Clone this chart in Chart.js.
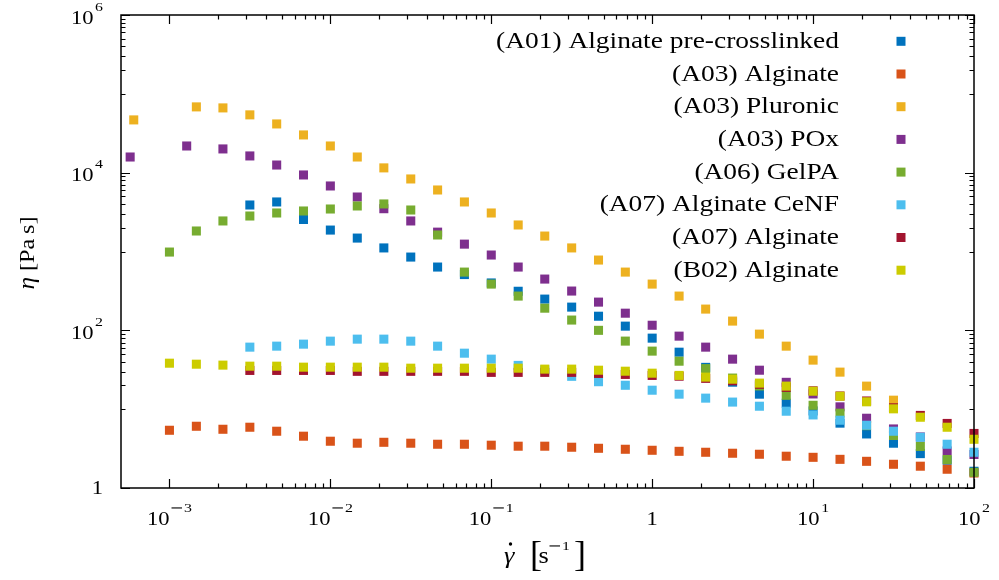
<!DOCTYPE html>
<html>
<head>
<meta charset="utf-8">
<script src="https://cdn.jsdelivr.net/npm/chart.js@4.4.1/dist/chart.umd.min.js"></script>
<style>
  html, body { margin: 0; padding: 0; background: #fff; }
  #wrap { width: 999px; height: 580px; }
</style>
</head>
<body>
<div id="wrap"><canvas id="chart" width="999" height="580"></canvas></div>
<script>
var shearRate = [0.001, 0.00147, 0.00215, 0.00316, 0.00464, 0.00681, 0.01, 0.0147, 0.0215, 0.0316,
  0.0464, 0.0681, 0.1, 0.147, 0.215, 0.316, 0.464, 0.681, 1, 1.47, 2.15, 3.16, 4.64, 6.81, 10,
  14.7, 21.5, 31.6, 46.4, 68.1, 100];

var seriesNames = ["(A01) Alginate pre-crosslinked", "(A03) Alginate", "(A03) Pluronic", "(A03) POx",
  "(A06) GelPA", "(A07) Alginate CeNF", "(A07) Alginate", "(B02) Alginate"];
var seriesColors = ["#0072bd", "#d95319", "#edb120", "#7e2f8e", "#77ac30", "#4dbeee", "#a2142f", "#cccc00"];

// viscosity (Pa s)
var xA01 = shearRate.slice(3);
var etaA01 = [3890, 4250, 2550, 1870, 1480, 1110, 850, 635, 510, 399, 313, 249, 197, 151, 113, 79.6,
  52.8, 33.9, 22.0, 15.5, 11.9, 9.5, 6.65, 4.85, 3.70, 2.73, 2.25, 1.63];
var xA03Alg = shearRate;
var etaA03Alg = [5.40, 6.07, 5.56, 5.90, 5.25, 4.54, 3.92, 3.70, 3.80, 3.70, 3.59, 3.59, 3.49, 3.39,
  3.39, 3.29, 3.19, 3.10, 3.01, 2.92, 2.84, 2.76, 2.68, 2.53, 2.45, 2.31, 2.18, 2.00, 1.89, 1.73, 1.55];
var xPluronic = [0.0006].concat(shearRate.slice(1, 28));
var etaPluronic = [46700, 68300, 66300, 54100, 41500, 30100, 21800, 15800, 11500, 8320, 6030, 4250,
  3080, 2170, 1570, 1110, 779, 548, 386, 272, 186, 131, 89.5, 63, 41.9, 29.5, 19.6, 13];
var xPOx = [0.00057, 0.00128].concat(shearRate.slice(2));
var etaPOx = [15800, 21800, 20000, 16300, 12500, 9350, 6780, 4910, 3490, 2440, 1760, 1240, 902, 635,
  447, 315, 228, 165, 116, 84.4, 61.2, 43.1, 31.2, 21.9, 15.6, 10.7, 7.67, 5.61, 4.44, 2.95, 2.66];
var xGelPA = shearRate;
var etaGelPA = [984, 1820, 2440, 2820, 3080, 3265, 3460, 3780, 4010, 3360, 1620, 548, 386, 272, 191,
  135, 100, 73, 54.5, 40.6, 32.7, 24.8, 19.7, 15.0, 11.2, 8.89, 6.18, 4.64, 3.37, 2.30, 1.58];
var xCeNF = shearRate.slice(3);
var etaCeNF = [61.2, 63, 66.8, 72.9, 77.3, 77.3, 72.9, 63, 51.3, 43.1, 35.9, 31.5, 26.1, 22.3, 20.1,
  17.4, 15.5, 13.8, 12.3, 10.9, 9.42, 8.45, 7.24, 6.25, 5.25, 4.40, 3.59, 2.84];
var xA07Alg = shearRate.slice(3);
var etaA07Alg = [31.0, 31.0, 31.0, 31.0, 30.2, 30.2, 30.2, 30.2, 30.2, 29.3, 29.3, 29.3, 29.3, 28.4,
  27.6, 26.8, 26.2, 24.6, 22.9, 20.7, 18.9, 17.1, 14.7, 12.7, 10.4, 8.33, 6.59, 4.92];
var xB02 = shearRate;
var etaB02 = [38.3, 37.2, 36.2, 35.1, 35.1, 34.1, 34.1, 34.1, 34.1, 33.1, 33.1, 33.1, 33.1, 33.1, 32.2,
  32.2, 31.2, 30.3, 28.6, 26.8, 25.5, 24.0, 21.4, 19.6, 16.9, 14.6, 12.4, 10.1, 7.9, 5.9, 4.15];

// axis ticks: [base, exponent]
var xTicks = [0.001, 0.01, 0.1, 1, 10, 100];
var xTickText = [["10", "-3"], ["10", "-2"], ["10", "-1"], ["1", ""], ["10", "1"], ["10", "2"]];
var yTicks = [1, 100, 10000, 1000000];
var yTickText = [["1", ""], ["10", "2"], ["10", "4"], ["10", "6"]];

var allX = [xA01, xA03Alg, xPluronic, xPOx, xGelPA, xCeNF, xA07Alg, xB02];
var allY = [etaA01, etaA03Alg, etaPluronic, etaPOx, etaGelPA, etaCeNF, etaA07Alg, etaB02];

function pts(xs, ys) {
  return ys.map(function (v, i) { return { x: xs[i], y: v }; });
}

var datasets = seriesNames.map(function (name, i) {
  return {
    label: name,
    data: pts(allX[i], allY[i]),
    backgroundColor: seriesColors[i],
    borderWidth: 0,
    pointStyle: "rect",
    pointRadius: 6.4,
    pointHoverRadius: 6.4,
    clip: false,
    order: seriesNames.length - i   // later series drawn on top
  };
});

var SERIF = '"Liberation Serif", "DejaVu Serif", serif';
var SX = 1.22;
var TICK_PX = 18.5;
var SUP_PX = 13;

function textW(ctx, s, size, sx, style) {
  ctx.font = (style || "") + " " + size + "px " + SERIF;
  return ctx.measureText(s).width * sx;
}

function drawText(ctx, s, x, y, size, sx, style) {
  ctx.save();
  ctx.font = (style || "") + " " + size + "px " + SERIF;
  ctx.translate(x, y);
  ctx.scale(sx, 1);
  ctx.textAlign = "left";
  ctx.textBaseline = "alphabetic";
  ctx.fillText(s, 0, 0);
  ctx.restore();
}

// superscript: a leading "-" is drawn as a long TeX-like minus bar
function supWidth(ctx, e) {
  var w = 0, s = e;
  if (s.charAt(0) === "-") { w += 13; s = s.slice(1); }
  return w + textW(ctx, s, SUP_PX, SX);
}
function drawSup(ctx, e, x, y) {
  var s = e;
  if (s.charAt(0) === "-") {
    ctx.fillRect(x + 0.5, y - 4.6, 10.5, 1.1);
    x += 13; s = s.slice(1);
  }
  drawText(ctx, s, x, y, SUP_PX, SX);
}
function powWidth(ctx, p) {
  var w = textW(ctx, p[0], TICK_PX, SX);
  if (p[1]) w += 1.5 + supWidth(ctx, p[1]);
  return w;
}
function drawPow(ctx, p, x, y) {
  drawText(ctx, p[0], x, y, TICK_PX, SX);
  if (p[1]) drawSup(ctx, p[1], x + textW(ctx, p[0], TICK_PX, SX) + 1.5, y - 13);
}

var axesPlugin = {
  id: "gnuplotAxes",
  afterDraw: function (chart) {
    var ctx = chart.ctx, a = chart.chartArea;
    var xs = chart.scales.x, ys = chart.scales.y;
    ctx.save();
    ctx.fillStyle = "#000";
    ctx.strokeStyle = "#000";

    // ticks, pointing inwards on all four sides
    ctx.lineWidth = 1.2;
    ctx.beginPath();
    function xt(v, len) {
      var px = Math.round(xs.getPixelForValue(v)) + 0.5;
      ctx.moveTo(px, a.bottom); ctx.lineTo(px, a.bottom - len);
      ctx.moveTo(px, a.top); ctx.lineTo(px, a.top + len);
    }
    function yt(v, len) {
      var py = Math.round(ys.getPixelForValue(v)) + 0.5;
      ctx.moveTo(a.left, py); ctx.lineTo(a.left + len, py);
      ctx.moveTo(a.right, py); ctx.lineTo(a.right - len, py);
    }
    xTicks.forEach(function (v) { xt(v, 9); });
    for (var d = 0.001; d < 99; d *= 10) {
      for (var m = 2; m <= 9; m++) xt(m * d, 4.5);
    }
    yTicks.forEach(function (v) { yt(v, 9); });
    [10, 1000, 100000].forEach(function (d) {
      for (var m = 1; m <= 9; m++) yt(m * d, 4.5);
    });
    ctx.stroke();

    // frame
    ctx.lineWidth = 1.5;
    ctx.strokeRect(a.left, a.top, a.right - a.left, a.bottom - a.top);

    // tick labels
    xTicks.forEach(function (v, i) {
      var px = xs.getPixelForValue(v);
      var w = powWidth(ctx, xTickText[i]);
      drawPow(ctx, xTickText[i], px - w / 2, 525);
    });
    yTicks.forEach(function (v, i) {
      var py = ys.getPixelForValue(v);
      var w = powWidth(ctx, yTickText[i]);
      var base = yTickText[i][1] ? py + 8.5 : py + 6;
      drawPow(ctx, yTickText[i], 103 - w, base);
    });

    // legend (text right-aligned, marker on the right)
    var LPX = 22.5;
    var lsx = 343 / textW(ctx, seriesNames[0], LPX, 1);
    seriesNames.forEach(function (name, i) {
      var cy = 41.3 + 32.7 * i;
      var w = textW(ctx, name, LPX, lsx);
      drawText(ctx, name, 839 - w, cy + 6.5, LPX, lsx);
      ctx.fillStyle = seriesColors[i];
      ctx.fillRect(896.5, cy - 4.5, 9, 9);
      ctx.fillStyle = "#000";
    });

    // y title: eta [Pa s]
    ctx.save();
    ctx.translate(34, 253);
    ctx.rotate(-Math.PI / 2);
    var wEta = textW(ctx, "\u03b7", 23, 1.1, "italic");
    var rest = " [Pa\u2009s]";
    var wRest = textW(ctx, rest, 22, 1.1);
    var y0 = -(wEta + wRest) / 2;
    drawText(ctx, "\u03b7", y0, 0, 23, 1.1, "italic");
    drawText(ctx, rest, y0 + wEta, 0, 22, 1.1);
    ctx.restore();

    // x title: gamma-dot [s^-1]
    var gy = 563;
    drawText(ctx, "\u03b3", 504, gy, 24, 1.1, "italic");
    ctx.beginPath();
    ctx.arc(510.5, 544, 1.7, 0, Math.PI * 2);
    ctx.fill();
    drawText(ctx, "[", 530, 566, 36, 1.0);
    drawText(ctx, "s", 538.5, gy, 23, 1.15);
    drawSup(ctx, "-1", 549, 550);
    drawText(ctx, "]", 574, 566, 36, 1.0);

    ctx.restore();
  }
};

var chart = new Chart(document.getElementById("chart"), {
  type: "scatter",
  data: { datasets: datasets },
  options: {
    responsive: false,
    animation: false,
    devicePixelRatio: 1,
    layout: { padding: { left: 121, right: 25, top: 15, bottom: 92 } },
    plugins: { legend: { display: false }, tooltip: { enabled: false } },
    events: [],
    scales: {
      x: { type: "logarithmic", min: 0.0005, max: 100, display: false },
      y: { type: "logarithmic", min: 1, max: 1000000, display: false }
    }
  },
  plugins: [axesPlugin]
});
</script>
</body>
</html>
